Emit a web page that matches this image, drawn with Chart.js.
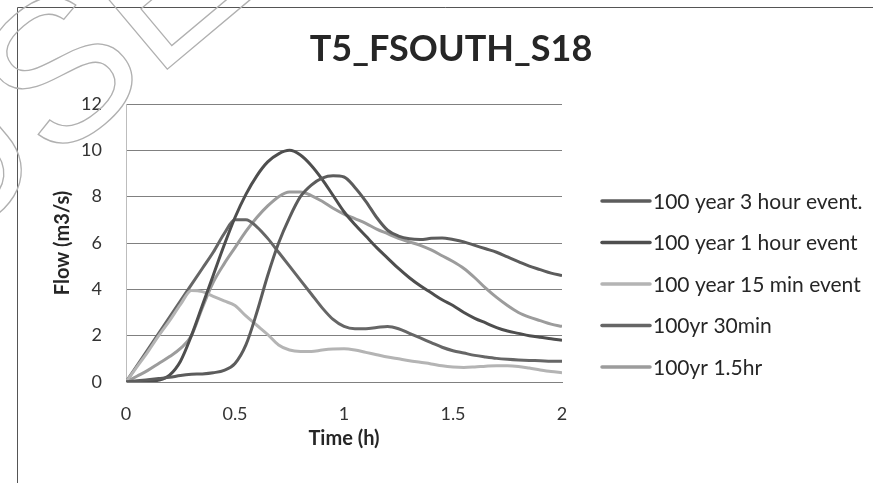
<!DOCTYPE html>
<html>
<head>
<meta charset="utf-8">
<title>T5_FSOUTH_S18</title>
<script src="https://cdn.jsdelivr.net/npm/chart.js@4.4.1/dist/chart.umd.min.js"></script>
<style>
  html, body { margin: 0; padding: 0; background: #ffffff; }
  #wrap { position: relative; width: 873px; height: 483px; }
</style>
</head>
<body>
<div id="wrap"><canvas id="chart" width="873" height="483"></canvas></div>
<script>
// Time axis in hours, 3-minute steps
const timeHours = [0, 0.05, 0.1, 0.15, 0.2, 0.25, 0.3, 0.35, 0.4, 0.45, 0.5, 0.55, 0.6, 0.65, 0.7, 0.75, 0.8, 0.85, 0.9, 0.95,
                   1.0, 1.05, 1.1, 1.15, 1.2, 1.25, 1.3, 1.35, 1.4, 1.45, 1.5, 1.55, 1.6, 1.65, 1.7, 1.75, 1.8, 1.85, 1.9, 1.95, 2.0];

// Flow (m3/s) for each design storm
const flow3hr = [0, 0.05, 0.1, 0.15, 0.2, 0.28, 0.33, 0.35, 0.4, 0.5, 0.8, 1.6, 3.0, 4.6, 6.0, 7.1, 8.0, 8.5, 8.8, 8.9,
                 8.85, 8.4, 7.8, 7.1, 6.55, 6.3, 6.18, 6.15, 6.2, 6.22, 6.15, 6.05, 5.9, 5.75, 5.6, 5.4, 5.2, 5.0, 4.85, 4.7, 4.6];
const flow1hr = [0, 0.01, 0.03, 0.08, 0.3, 0.9, 2.0, 3.3, 4.6, 5.9, 7.1, 8.1, 8.9, 9.5, 9.85, 10.0, 9.8, 9.35, 8.75, 8.05,
                 7.35, 6.8, 6.3, 5.8, 5.35, 4.9, 4.5, 4.15, 3.85, 3.55, 3.3, 3.0, 2.75, 2.55, 2.35, 2.2, 2.1, 2.0, 1.93, 1.87, 1.8];
const flow15min = [0, 0.65, 1.3, 2.0, 2.65, 3.35, 3.95, 3.9, 3.7, 3.5, 3.3, 2.85, 2.45, 2.05, 1.6, 1.38, 1.32, 1.32, 1.38, 1.42,
                   1.43, 1.38, 1.28, 1.18, 1.08, 1.0, 0.92, 0.85, 0.78, 0.7, 0.65, 0.63, 0.65, 0.68, 0.7, 0.7, 0.67, 0.6, 0.52, 0.45, 0.4];
const flow30min = [0, 0.7, 1.4, 2.1, 2.8, 3.5, 4.2, 4.9, 5.6, 6.4, 7.0, 7.0, 6.7, 6.2, 5.6, 5.0, 4.4, 3.8, 3.2, 2.7,
                   2.4, 2.3, 2.3, 2.35, 2.4, 2.3, 2.1, 1.9, 1.7, 1.5, 1.35, 1.25, 1.15, 1.08, 1.02, 0.98, 0.95, 0.93, 0.92, 0.9, 0.9];
const flow1p5hr = [0, 0.25, 0.5, 0.8, 1.1, 1.45, 2.0, 3.2, 4.3, 5.1, 5.8, 6.5, 7.1, 7.6, 8.0, 8.2, 8.2, 8.05, 7.8, 7.5,
                   7.25, 7.05, 6.85, 6.6, 6.4, 6.2, 6.05, 5.9, 5.7, 5.45, 5.2, 4.9, 4.5, 4.05, 3.65, 3.3, 3.0, 2.8, 2.65, 2.5, 2.4];

const seriesNames = ['100 year 3 hour event.', '100 year 1 hour event', '100 year 15 min event', '100yr 30min', '100yr 1.5hr'];
const seriesValues = [flow3hr, flow1hr, flow15min, flow30min, flow1p5hr];
const seriesColors = ['#5c5c5c', '#4e4e4e', '#b4b4b4', '#666666', '#9c9c9c'];

const xTicks = [0, 0.5, 1, 1.5, 2];
const yTicks = [0, 2, 4, 6, 8, 10, 12];

const FONT = 'Lato, "Open Sans", "Liberation Sans", sans-serif';

function toPoints(values) {
  return values.map((v, i) => ({ x: timeHours[i], y: v }));
}

// Page furniture: border, stamp outline, chart title
const decorPlugin = {
  id: 'decor',
  beforeDraw(chart) {
    const ctx = chart.ctx;
    ctx.save();
    ctx.fillStyle = '#ffffff';
    ctx.fillRect(0, 0, chart.width, chart.height);
    ctx.strokeStyle = '#555555';
    ctx.lineWidth = 1;
    ctx.beginPath();
    ctx.moveTo(17.5, chart.height);
    ctx.lineTo(17.5, 7.5);
    ctx.lineTo(chart.width, 7.5);
    ctx.stroke();
    ctx.restore();
  },
  afterDraw(chart) {
    const ctx = chart.ctx;
    // outlined stamp text
    ctx.save();
    ctx.translate(64, 84);
    ctx.rotate(-40 * Math.PI / 180);
    ctx.font = '200px "Liberation Sans", Arial, sans-serif';
    ctx.textAlign = 'center';
    ctx.textBaseline = 'middle';
    ctx.strokeStyle = '#b0b0b0';
    ctx.lineWidth = 1.3;
    ctx.strokeText('USE', 0, 0);
    ctx.restore();

    // title
    ctx.save();
    ctx.font = 'bold 36px ' + FONT;
    ctx.fillStyle = '#262626';
    ctx.textAlign = 'center';
    ctx.textBaseline = 'middle';
    ctx.fillText('T5_FSOUTH_S18', 451, 49);
    ctx.restore();
  }
};

// Legend on the right, drawn from the datasets
const sideLegend = {
  id: 'sideLegend',
  afterDraw(chart) {
    const ctx = chart.ctx;
    ctx.save();
    chart.data.datasets.forEach((ds, i) => {
      const y = 201 + i * 41.5;
      ctx.strokeStyle = ds.borderColor;
      ctx.lineWidth = 3.5;
      ctx.lineCap = 'round';
      ctx.beginPath();
      ctx.moveTo(602, y);
      ctx.lineTo(650, y);
      ctx.stroke();
      ctx.font = '21px ' + FONT;
      ctx.fillStyle = '#262626';
      ctx.textAlign = 'left';
      ctx.textBaseline = 'middle';
      ctx.fillText(ds.label, 653, y + 1);
    });
    ctx.restore();
  }
};

new Chart(document.getElementById('chart'), {
  type: 'line',
  data: {
    datasets: seriesNames.map((name, i) => ({
      label: name,
      data: toPoints(seriesValues[i]),
      borderColor: seriesColors[i],
      backgroundColor: seriesColors[i],
      borderWidth: 3,
      pointRadius: 0,
      cubicInterpolationMode: 'monotone',
      fill: false
    }))
  },
  options: {
    responsive: false,
    animation: false,
    layout: { padding: { left: 20, right: 311, top: 104, bottom: 20 } },
    plugins: {
      legend: { display: false },
      title: { display: false },
      tooltip: { enabled: false }
    },
    scales: {
      x: {
        type: 'linear',
        min: 0,
        max: 2,
        afterFit(scale) { scale.height = 81; },
        afterBuildTicks(scale) { scale.ticks = xTicks.map(v => ({ value: v })); },
        ticks: {
          padding: 21,
          color: '#333333',
          font: { family: FONT, size: 18 },
          callback: v => String(v)
        },
        grid: { display: false, drawTicks: false },
        border: { display: true, color: '#808080', width: 1 },
        title: {
          display: true,
          text: 'Time (h)',
          color: '#262626',
          font: { family: FONT, size: 20, weight: 'bold' },
          padding: { top: 0, bottom: 12 }
        }
      },
      y: {
        min: 0,
        max: 12,
        afterFit(scale) { scale.width = 106; },
        afterBuildTicks(scale) { scale.ticks = yTicks.map(v => ({ value: v })); },
        ticks: {
          padding: 24,
          color: '#333333',
          font: { family: FONT, size: 18 }
        },
        grid: { color: '#808080', lineWidth: 1, drawTicks: false },
        border: { display: true, color: '#bdbdbd', width: 1 },
        title: {
          display: true,
          text: 'Flow (m3/s)',
          color: '#262626',
          font: { family: FONT, size: 20, weight: 'bold' },
          padding: { top: 31, bottom: 0 }
        }
      }
    }
  },
  plugins: [decorPlugin, sideLegend]
});
</script>
</body>
</html>
